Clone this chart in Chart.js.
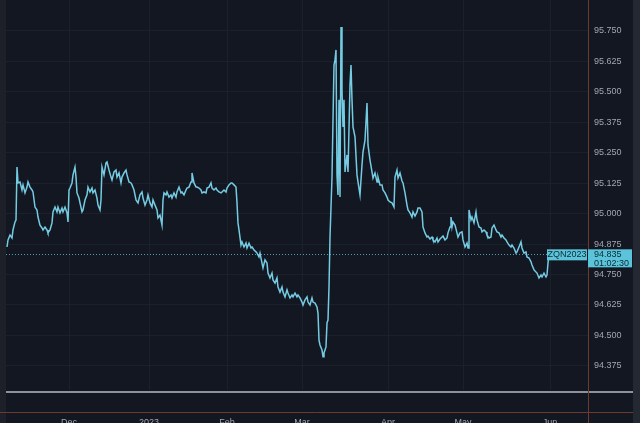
<!DOCTYPE html>
<html>
<head>
<meta charset="utf-8">
<script src="https://cdn.jsdelivr.net/npm/chart.js@4.4.0/dist/chart.umd.min.js"></script>
<style>
  html, body { margin: 0; padding: 0; background: #131722; }
  #wrap { width: 640px; height: 423px; }
</style>
</head>
<body>
<div id="wrap"><canvas id="chart" width="640" height="423"></canvas></div>
<script>
// bar position (one unit per bar) and price
const bars = [
  0, 1, 3, 5, 6, 8, 9, 10, 11, 13, 15, 16, 18, 20, 21, 23, 25, 26, 28, 30,
  31, 33, 35, 36, 38, 40, 41, 43, 45, 46, 48, 50, 51, 53, 55, 56, 58, 60, 61, 62,
  63, 65, 66, 68, 69, 70, 72, 73, 75, 76, 78, 80, 81, 83, 85, 86, 88, 90, 91, 93,
  94, 95, 97, 99, 100, 102, 104, 105, 107, 109, 110, 112, 114, 115, 117, 119, 120, 122, 124, 125,
  127, 129, 131, 133, 135, 136, 138, 140, 141, 143, 145, 146, 148, 150, 151, 153, 155, 156, 157, 159,
  160, 162, 164, 165, 167, 169, 170, 172, 174, 175, 177, 179, 180, 182, 184, 185, 187, 189, 190, 192,
  194, 195, 197, 199, 200, 202, 204, 205, 207, 209, 210, 212, 214, 215, 217, 219, 220, 222, 224, 225,
  227, 229, 230, 231, 232, 234, 235, 237, 239, 240, 242, 244, 245, 247, 249, 250, 252, 253, 255, 256,
  258, 260, 261, 263, 265, 266, 268, 270, 271, 273, 275, 276, 278, 280, 281, 283, 285, 286, 288, 290,
  291, 293, 295, 296, 298, 300, 301, 303, 305, 306, 308, 310, 311, 312, 313, 315, 316, 317, 319, 320,
  321, 322, 323, 325, 326, 327, 328, 329, 330, 331, 332, 333, 334, 335, 336, 337, 338, 340, 341, 343,
  344, 345, 346, 348, 350, 351, 353, 355, 356, 358, 360, 361, 363, 365, 366, 368, 370, 371, 373, 375,
  376, 378, 380, 381, 383, 385, 387, 388, 390, 391, 393, 395, 396, 398, 400, 401, 403, 405, 406, 408,
  410, 411, 413, 415, 416, 418, 420, 421, 423, 425, 426, 428, 430, 431, 433, 435, 436, 438, 440, 441,
  443, 444, 445, 446, 448, 450, 451, 453, 455, 456, 458, 460, 461, 462, 464, 465, 467, 469, 470, 472,
  474, 475, 477, 479, 480, 482, 484, 485, 487, 489, 490, 492, 494, 495, 497, 499, 500, 502, 504, 505,
  507, 509, 510, 512, 514, 515, 517, 519, 520, 522, 524, 525, 527, 529, 530, 532, 534, 535, 537, 539,
  540, 541, 542
];
const prices = [
  94.863, 94.892, 94.912, 94.900, 94.933, 94.966, 94.974, 95.191, 95.126, 95.130, 95.097, 95.118, 95.085, 95.109, 95.130, 95.109, 95.097, 95.089, 95.027, 95.015,
  94.986, 94.953, 94.941, 94.933, 94.945, 94.933, 94.921, 94.933, 94.962, 95.007, 95.027, 95.007, 95.027, 95.003, 95.023, 95.007, 95.027, 95.003, 94.966, 95.097,
  95.105, 95.126, 95.159, 95.191, 95.150, 95.085, 95.064, 95.044, 95.007, 95.015, 95.056, 95.077, 95.109, 95.089, 95.105, 95.085, 95.097, 95.064, 95.035, 95.015,
  95.056, 95.191, 95.159, 95.208, 95.212, 95.179, 95.150, 95.138, 95.171, 95.179, 95.150, 95.167, 95.126, 95.150, 95.167, 95.179, 95.159, 95.130, 95.126, 95.118,
  95.097, 95.056, 95.044, 95.077, 95.089, 95.064, 95.035, 95.056, 95.077, 95.044, 95.027, 95.056, 95.035, 95.015, 94.982, 94.994, 94.953, 95.056, 95.085, 95.077,
  95.089, 95.068, 95.077, 95.064, 95.085, 95.068, 95.089, 95.109, 95.085, 95.089, 95.077, 95.097, 95.105, 95.109, 95.130, 95.167, 95.126, 95.109, 95.109, 95.105,
  95.097, 95.085, 95.089, 95.085, 95.105, 95.109, 95.126, 95.105, 95.097, 95.105, 95.097, 95.089, 95.085, 95.089, 95.097, 95.089, 95.105, 95.118, 95.126, 95.126,
  95.118, 95.109, 95.044, 94.962, 94.933, 94.871, 94.884, 94.863, 94.879, 94.859, 94.879, 94.859, 94.863, 94.851, 94.843, 94.838, 94.822, 94.838, 94.797, 94.777,
  94.810, 94.797, 94.756, 94.736, 94.756, 94.728, 94.715, 94.736, 94.699, 94.678, 94.699, 94.678, 94.658, 94.687, 94.674, 94.654, 94.666, 94.658, 94.674, 94.658,
  94.666, 94.654, 94.637, 94.625, 94.646, 94.658, 94.637, 94.625, 94.654, 94.637, 94.633, 94.617, 94.592, 94.481, 94.461, 94.440, 94.412, 94.428, 94.453, 94.551,
  94.563, 94.699, 94.904, 95.150, 95.384, 95.610, 95.631, 95.672, 95.159, 95.077, 95.467, 95.068, 95.766, 95.508, 95.356, 95.467, 95.171, 95.241, 95.171, 95.528,
  95.610, 95.467, 95.356, 95.315, 95.159, 95.130, 95.077, 95.200, 95.253, 95.302, 95.454, 95.282, 95.220, 95.171, 95.146, 95.167, 95.130, 95.150, 95.118, 95.118,
  95.097, 95.085, 95.068, 95.056, 95.048, 95.044, 95.027, 95.150, 95.179, 95.146, 95.167, 95.134, 95.126, 95.085, 95.035, 95.015, 95.003, 94.986, 95.007, 94.990,
  95.007, 95.023, 95.023, 95.007, 94.945, 94.921, 94.904, 94.908, 94.896, 94.904, 94.892, 94.884, 94.900, 94.884, 94.896, 94.904, 94.908, 94.892, 94.900, 94.921,
  94.945, 94.986, 94.945, 94.966, 94.953, 94.921, 94.904, 94.921, 94.925, 94.892, 94.863, 94.879, 94.859, 95.015, 94.974, 94.986, 94.962, 95.007, 94.974, 94.945,
  94.941, 94.925, 94.933, 94.925, 94.912, 94.900, 94.904, 94.941, 94.953, 94.933, 94.925, 94.921, 94.904, 94.912, 94.900, 94.892, 94.884, 94.871, 94.863, 94.871,
  94.859, 94.838, 94.843, 94.863, 94.884, 94.859, 94.838, 94.843, 94.822, 94.818, 94.802, 94.789, 94.769, 94.760, 94.756, 94.736, 94.748, 94.740, 94.756, 94.740,
  94.748, 94.797, 94.835
];

const monthBars = [62, 142, 220, 295, 381, 456, 543];
const monthLabels = ["Dec", "2023", "Feb", "Mar", "Apr", "May", "Jun"];
const priceTicks = [94.375, 94.5, 94.625, 94.75, 94.875, 95.0, 95.125, 95.25, 95.375, 95.5, 95.625, 95.75];

const symbol = "ZQN2023";
const lastPrice = 94.835;
const countdown = "01:02:30";

const BG = "#131722";
const LINE = "#74cbe2";
const GRID = "#1c202b";
const AXIS_TEXT = "#a3a6af";
const TAG = "#5cc4da";
const TAG_TEXT = "#0e2a33";
const FONT = "Liberation Sans, Arial, sans-serif";

// background, pane separators, price line and tags
const decor = {
  id: "decor",
  beforeDraw(chart) {
    const c = chart.ctx;
    c.save();
    c.fillStyle = BG;
    c.fillRect(0, 0, chart.width, chart.height);
    c.fillStyle = "#1d2029";
    c.fillRect(0, 0, 6, chart.height);
    c.fillStyle = "#242833";
    c.fillRect(633, 0, chart.width - 633, chart.height);
    c.restore();
  },
  afterDatasetsDraw(chart) {
    const c = chart.ctx;
    const area = chart.chartArea;
    const y = chart.scales.y.getPixelForValue(lastPrice);
    c.save();
    // dotted price line
    c.strokeStyle = "rgba(108,196,220,0.75)";
    c.lineWidth = 1;
    c.setLineDash([1, 2]);
    c.beginPath();
    c.moveTo(area.left, Math.round(y) + 0.5);
    c.lineTo(area.right, Math.round(y) + 0.5);
    c.stroke();
    c.setLineDash([]);
    c.restore();
  },
  afterDraw(chart) {
    const c = chart.ctx;
    const area = chart.chartArea;
    const y = chart.scales.y.getPixelForValue(lastPrice);
    c.save();
    // lower pane separator
    c.fillStyle = "#8d919b";
    c.fillRect(area.left, 391, 633 - area.left, 2);
    // orange border lines
    c.strokeStyle = "#6e3a2b";
    c.lineWidth = 1;
    c.beginPath();
    c.moveTo(0, 412.5);
    c.lineTo(633, 412.5);
    c.moveTo(area.right + 0.5, 0);
    c.lineTo(area.right + 0.5, chart.height);
    c.stroke();

    // symbol tag
    c.fillStyle = TAG;
    c.fillRect(area.right - 41, y - 4.5, 40, 11);
    c.fillStyle = TAG_TEXT;
    c.font = "9px " + FONT;
    c.textAlign = "center";
    c.textBaseline = "middle";
    c.fillText(symbol, area.right - 21, y + 1);

    // price tag
    c.fillStyle = TAG;
    c.fillRect(area.right, y - 4.5, 44, 18);
    c.fillStyle = TAG_TEXT;
    c.textAlign = "left";
    c.fillText(lastPrice.toFixed(3), area.right + 6, y + 1);
    c.fillText(countdown, area.right + 6, y + 9.5);
    c.restore();
  }
};

const points = bars.map((b, i) => ({ x: b, y: prices[i] }));

new Chart(document.getElementById("chart"), {
  type: "line",
  data: {
    datasets: [{
      data: points,
      borderColor: LINE,
      borderWidth: 1.5,
      pointRadius: 0,
      tension: 0,
      fill: false
    }]
  },
  options: {
    responsive: false,
    animation: false,
    layout: { padding: { left: 6, top: 0, right: 0, bottom: 0 } },
    plugins: { legend: { display: false }, tooltip: { enabled: false } },
    scales: {
      x: {
        type: "linear",
        min: -1,
        max: 581,
        afterBuildTicks: s => { s.ticks = monthBars.map(v => ({ value: v })); },
        afterFit: s => { s.height = 33; s.paddingLeft = 0; s.paddingRight = 0; },
        grid: { color: GRID, drawTicks: false },
        border: { display: false },
        ticks: {
          autoSkip: false,
          maxRotation: 0,
          padding: 27,
          color: AXIS_TEXT,
          font: { size: 9, family: FONT },
          callback: (v, i) => monthLabels[i]
        }
      },
      y: {
        position: "right",
        min: 94.276,
        max: 95.877,
        afterBuildTicks: s => { s.ticks = priceTicks.map(v => ({ value: v })); },
        afterFit: s => { s.width = 52; s.paddingTop = 0; s.paddingBottom = 0; },
        grid: { color: GRID, drawTicks: false },
        border: { display: false },
        ticks: {
          padding: 6,
          color: AXIS_TEXT,
          font: { size: 9, family: FONT },
          callback: v => v.toFixed(3)
        }
      }
    }
  },
  plugins: [decor]
});
</script>
</body>
</html>
